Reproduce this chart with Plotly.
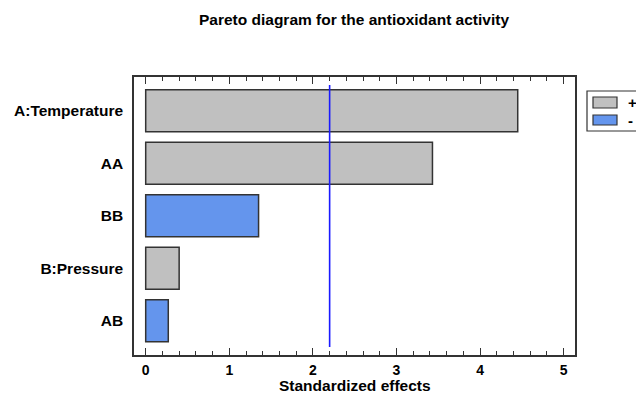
import plotly.graph_objects as go

# Standardized effects of the fitted response-surface terms
terms = ["A:Temperature", "AA", "BB", "B:Pressure", "AB"]
effects = [4.45, 3.43, 1.35, 0.40, 0.27]
signs = ["+", "+", "-", "+", "-"]
critical_value = 2.2
x_ticks = [0, 1, 2, 3, 4, 5]

W, H = 636, 394
L, R, T, B = 134, 575, 77, 355  # plot frame in pixels

sign_colors = {"+": "#c0c0c0", "-": "#6495ed"}
edge = "#333333"
font_family = "Liberation Sans, Arial, sans-serif"


def px(xp):
    return (xp - L) / (R - L)


def py(yp):
    return (B - yp) / (B - T)


fig = go.Figure()
fig.add_trace(go.Bar(
    x=effects,
    y=terms,
    orientation="h",
    width=0.8,
    marker=dict(color=[sign_colors[s] for s in signs],
                line=dict(color=edge, width=1.5)),
    showlegend=False,
    hoverinfo="x+y",
))

# critical value line
fig.add_shape(type="line", xref="x", yref="paper",
              x0=critical_value, x1=critical_value, y0=py(347), y1=py(85),
              line=dict(color="#1a1aff", width=1.6))

# legend box with sign swatches
fig.add_shape(type="rect", xref="paper", yref="paper",
              x0=px(587), x1=px(642), y0=py(131), y1=py(91),
              line=dict(color=edge, width=1.2), fillcolor="white")
legend_rows = [("+", 97, 108), ("-", 115, 125)]
for s, top, bot in legend_rows:
    fig.add_shape(type="rect", xref="paper", yref="paper",
                  x0=px(593), x1=px(617), y0=py(bot), y1=py(top),
                  line=dict(color=edge, width=1.2), fillcolor=sign_colors[s])
    fig.add_annotation(xref="paper", yref="paper", x=px(626), y=py((top + bot) / 2),
                       text=f"<b>{s}</b>", showarrow=False, xanchor="left",
                       yanchor="middle", font=dict(size=15, color="black"))

# x-axis title placed as text below the tick labels
fig.add_annotation(xref="paper", yref="paper", x=px(355), y=py(385),
                   text="<b>Standardized effects</b>", showarrow=False,
                   xanchor="center", yanchor="middle",
                   font=dict(size=15.5, color="black"))

fig.update_layout(
    width=W, height=H,
    margin=dict(l=L, r=W - R, t=T, b=H - B, autoexpand=False),
    paper_bgcolor="white", plot_bgcolor="white",
    font=dict(family=font_family, color="black"),
    title=dict(text="<b>Pareto diagram for the antioxidant activity</b>",
               x=(354 / W), xanchor="center", y=1 - 20 / H, yanchor="middle",
               font=dict(size=15.5, color="black")),
    bargap=0.2,
)

fig.update_xaxes(
    range=[-0.14, 5.135],
    tickvals=x_ticks,
    ticktext=[f"<b>{v}</b>" for v in x_ticks],
    ticks="inside", ticklen=7, tickwidth=1.3, tickcolor=edge,
    minor=dict(dtick=0.2, ticks="inside", ticklen=4, tickwidth=1, tickcolor=edge),
    showline=True, linecolor=edge, linewidth=1.5, mirror="allticks",
    showgrid=False, zeroline=False, automargin=False,
    ticklabelstandoff=1,
    tickfont=dict(size=14, color="black"),
)

fig.update_yaxes(
    categoryorder="array", categoryarray=terms[::-1],
    range=[-0.653, 4.645],
    ticktext=[f"<b>{t}</b>" for t in terms], tickvals=terms,
    showline=True, linecolor=edge, linewidth=1.5, mirror=True,
    showgrid=False, zeroline=False, ticks="", automargin=False,
    ticklabelstandoff=6,
    tickfont=dict(size=15.5, color="black"),
)

fig.write_html("out.html")
